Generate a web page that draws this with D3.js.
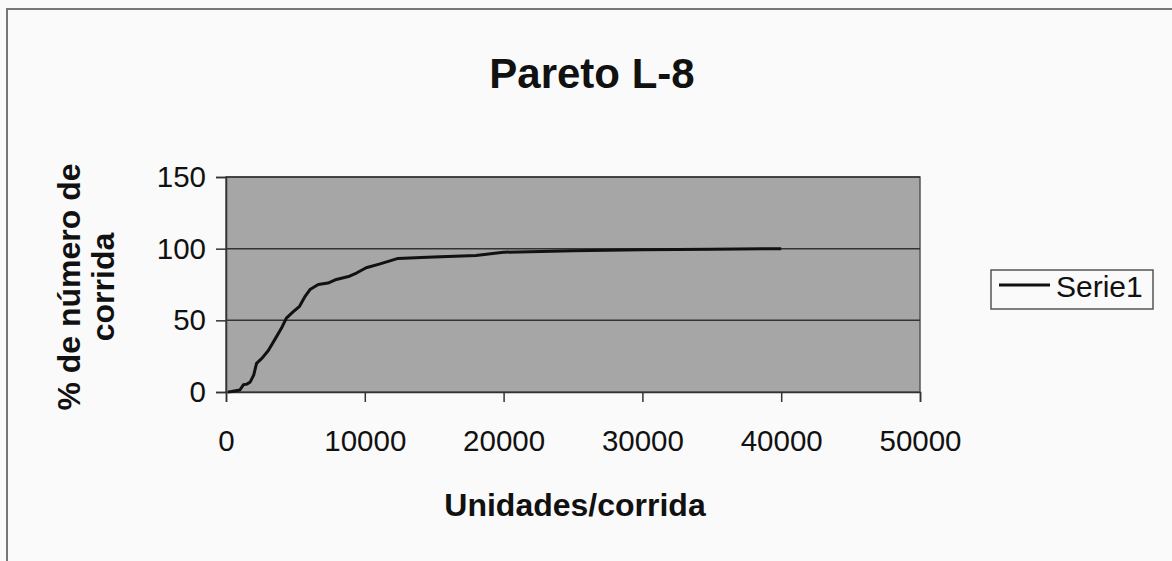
<!DOCTYPE html>
<html><head><meta charset="utf-8">
<script src="https://cdn.jsdelivr.net/npm/d3@7"></script>
<style>html,body{margin:0;padding:0;background:#fafafa;}svg{display:block;}</style>
</head><body>
<svg id="c" width="1172" height="561"></svg>
<script>
const units = [150, 400, 1000, 1250, 1500, 1750, 2000, 2200, 2600, 3050, 3650, 4000, 4350, 4850, 5300, 5700, 6050, 6650, 7350, 7950, 8900, 9400, 10100, 11100, 12400, 14500, 18000, 20000, 25000, 30000, 35000, 40000];
const pct   = [0, 0.3, 1.4, 5, 5.5, 7, 12, 20, 23.6, 29, 38.8, 44.6, 51.6, 56, 59.8, 66.8, 71.5, 75, 76, 78.5, 80.8, 83, 86.7, 89.4, 93.2, 94, 95.3, 97.5, 98.5, 99.2, 99.6, 100];
const xTicks = [0, 10000, 20000, 30000, 40000, 50000];
const yTicks = [0, 50, 100, 150];
const seriesName = "Serie1";

const svg = d3.select("#c");
const font = "'Liberation Sans', Arial, sans-serif";

// outer frame
svg.append("path").attr("d", "M7,561 L7,9 L1172,9").attr("fill","none").attr("stroke","#777").attr("stroke-width",2);

const L = 226, R = 920, T = 177, B = 392;
const x = d3.scaleLinear().domain([0, 50000]).range([L, R]);
const y = d3.scaleLinear().domain([0, 150]).range([B, T]);

svg.append("rect").attr("x", L).attr("y", T).attr("width", R-L).attr("height", B-T)
  .attr("fill", "#a6a6a6").attr("stroke", "#555").attr("stroke-width", 1.5);

// gridlines
svg.append("g").selectAll("line").data(yTicks.filter(d=>d>0)).join("line")
  .attr("x1", L).attr("x2", R).attr("y1", d=>y(d)).attr("y2", d=>y(d))
  .attr("stroke", "#333").attr("stroke-width", 1.5);

// axes
const xAxis = svg.append("g").attr("transform", `translate(0,${B})`)
  .call(d3.axisBottom(x).tickValues(xTicks).tickFormat(d3.format("d")).tickSize(10).tickPadding(28));
const yAxis = svg.append("g").attr("transform", `translate(${L},0)`)
  .call(d3.axisLeft(y).tickValues(yTicks).tickSize(10).tickPadding(10));
[xAxis, yAxis].forEach(g => {
  g.select(".domain").attr("stroke", "#333").attr("stroke-width", 1.5);
  g.selectAll(".tick line").attr("stroke", "#333").attr("stroke-width", 1.5);
  g.selectAll(".tick text").attr("font-family", font).attr("font-size", 29.5).attr("fill", "#111");
});

// series line
const pts = units.map((u,i)=>[u, pct[i]]);
svg.append("path").datum(pts)
  .attr("d", d3.line().x(d=>x(d[0])).y(d=>y(d[1])).curve(d3.curveLinear))
  .attr("fill","none").attr("stroke","#111").attr("stroke-width",3).attr("stroke-linejoin","round");

// title
svg.append("text").attr("x", 592).attr("y", 88).attr("text-anchor","middle")
  .attr("font-family", font).attr("font-weight","bold").attr("font-size", 42).attr("fill","#111")
  .text("Pareto L-8");

// x title
svg.append("text").attr("x", 575).attr("y", 516).attr("text-anchor","middle")
  .attr("font-family", font).attr("font-weight","bold").attr("font-size", 32).attr("fill","#111")
  .text("Unidades/corrida");

// y title
const yt = svg.append("text").attr("transform","translate(0,287) rotate(-90)")
  .attr("text-anchor","middle").attr("font-family", font).attr("font-weight","bold").attr("font-size", 32).attr("fill","#111");
yt.append("tspan").attr("x",0).attr("y",80).text("% de número de");
yt.append("tspan").attr("x",0).attr("y",114).text("corrida");

// legend
const lg = svg.append("g");
lg.append("rect").attr("x",991).attr("y",270).attr("width",162).attr("height",39)
  .attr("fill","#fafafa").attr("stroke","#555").attr("stroke-width",1.5);
lg.append("line").attr("x1",999).attr("x2",1050).attr("y1",285).attr("y2",285).attr("stroke","#111").attr("stroke-width",3);
lg.append("text").attr("x",1056).attr("y",297).attr("font-family",font).attr("font-size",30).attr("fill","#111").text(seriesName);
</script>
</body></html>
